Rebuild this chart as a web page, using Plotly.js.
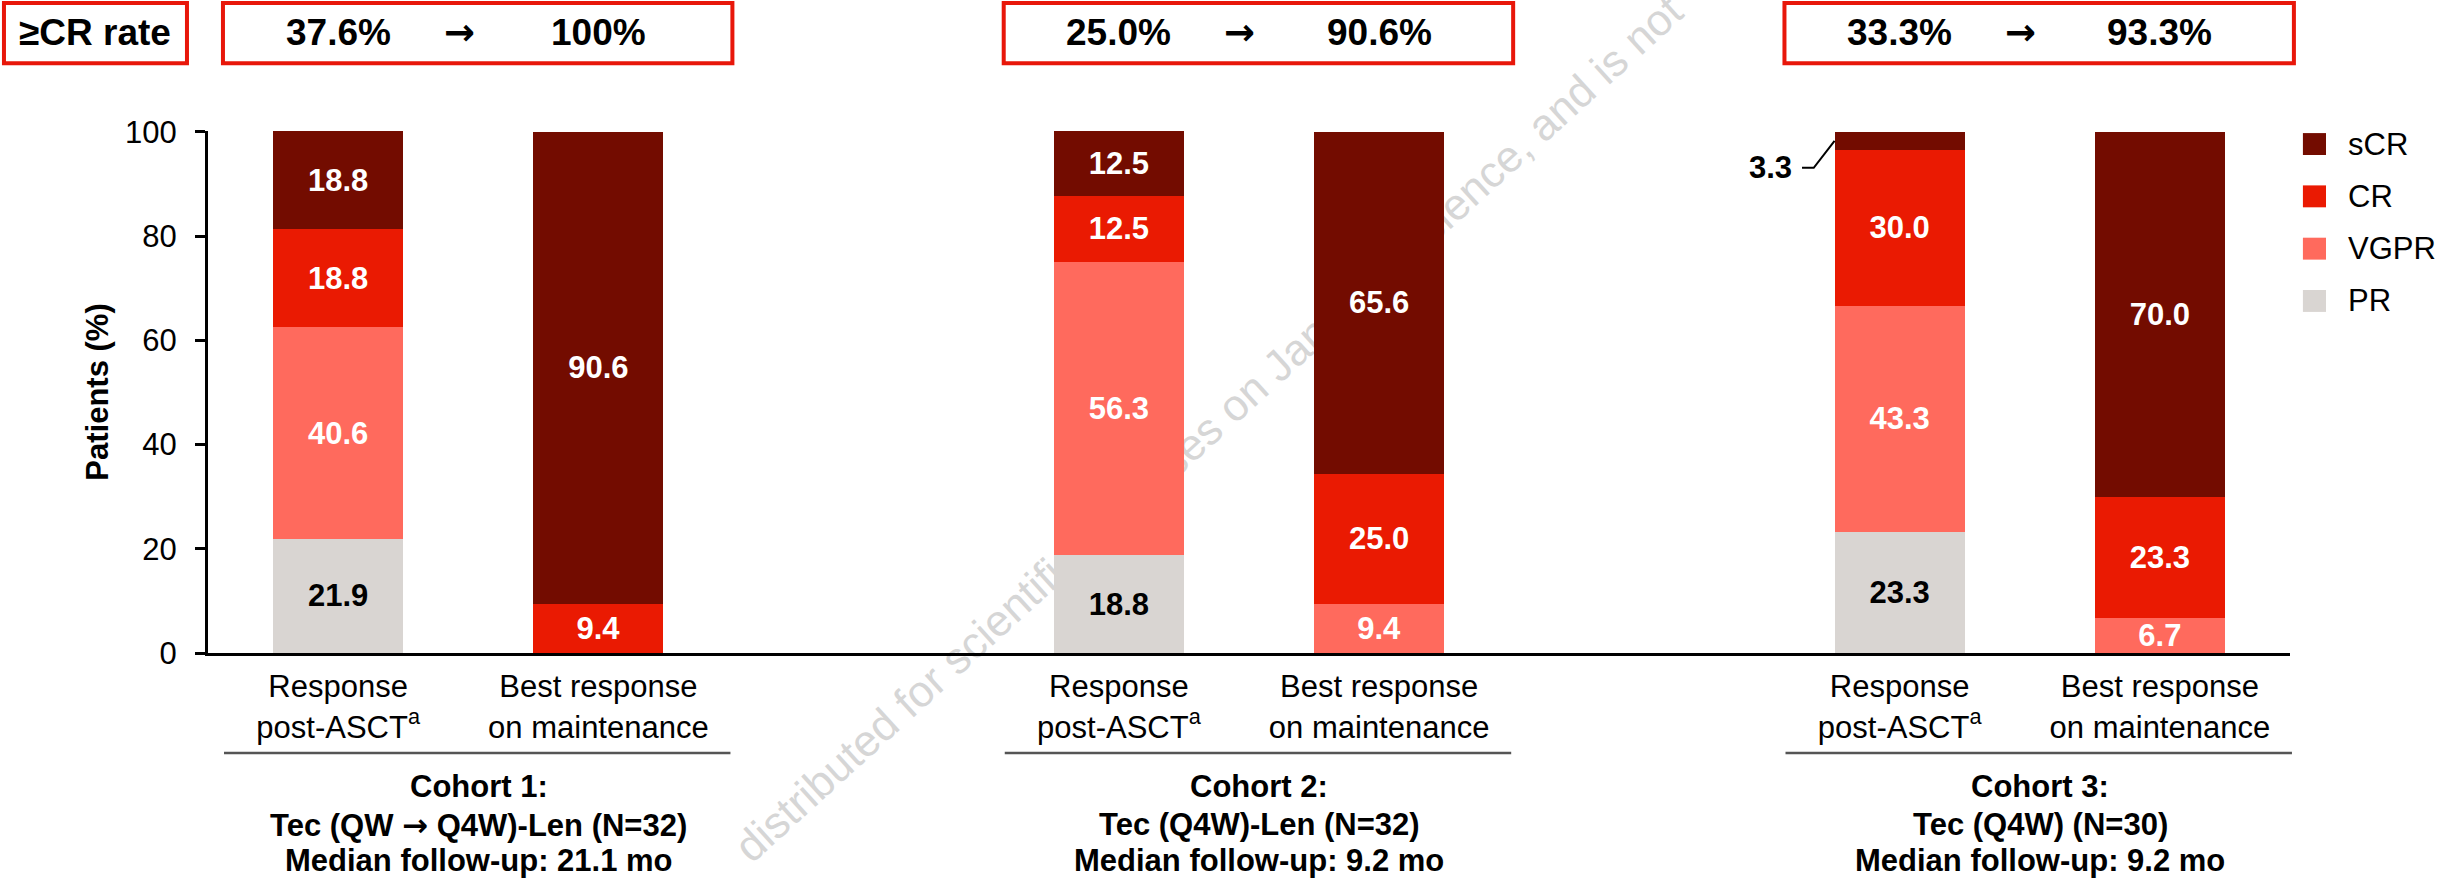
<!DOCTYPE html>
<html><head><meta charset="utf-8">
<script src="https://cdn.plot.ly/plotly-3.0.1.min.js"></script>
<style>html,body{margin:0;padding:0;background:#fff}#chart{width:2453px;height:878px}</style>
</head><body><div id="chart"></div>
<script>
// ---------- data ----------
const cohortLabels = ['Cohort 1:', 'Cohort 2:', 'Cohort 3:'];
const cohortRegimens = ['Tec (QW \u2192 Q4W)-Len (N=32)', 'Tec (Q4W)-Len (N=32)', 'Tec (Q4W) (N=30)'];
const cohortFollowUp = ['Median follow-up: 21.1 mo', 'Median follow-up: 9.2 mo', 'Median follow-up: 9.2 mo'];
const timepoints = ['Response<br>post-ASCT<sup>a</sup>', 'Best response<br>on maintenance'];
const responseNames = ['PR', 'VGPR', 'CR', 'sCR'];
// bars: C1 post-ASCT, C1 maintenance, C2 post-ASCT, C2 maintenance, C3 post-ASCT, C3 maintenance
const PR   = [21.9, 0,    18.8, 0,    23.3, 0];
const VGPR = [40.6, 0,    56.3, 9.4,  43.3, 6.7];
const CR   = [18.8, 9.4,  12.5, 25.0, 30.0, 23.3];
const sCR  = [18.8, 90.6, 12.5, 65.6, 3.3,  70.0];
const yTicks = [0, 20, 40, 60, 80, 100];
const rateLabel = '\u2265CR rate';
const yTitle = 'Patients (%)';
const watermarkText = 'distributed for scientific purposes on Janssen Science, and is not';

// ---------- styles ----------
const FONT = '"Liberation Sans", Arial, Helvetica, sans-serif';
const ARROW_FONT = '"DejaVu Sans", sans-serif';
const FS = 31;
const RED = '#E8170A';
const colors = {PR: '#D9D5D2', VGPR: '#FF6A5D', CR: '#EA1A02', sCR: '#730C00'};
const textColors = {PR: '#000000', VGPR: '#FFFFFF', CR: '#FFFFFF', sCR: '#FFFFFF'};
const series = {PR: PR, VGPR: VGPR, CR: CR, sCR: sCR};
const arrowSpan = t => t.replace('\u2192', '<span style="font-family:DejaVu Sans">\u2192</span>');

const xPos = [], tickText = [];
cohortLabels.forEach((c, ci) => timepoints.forEach((t, ti) => { xPos.push(ci * 6 + ti * 2); tickText.push(t); }));
const XMIN = -1, XMAX = 15;
const px = x => (x - XMIN) / (XMAX - XMIN);

const traces = responseNames.map(name => ({
  type: 'bar', name: name, x: xPos, y: series[name], width: 1,
  marker: {color: colors[name], line: {width: 0}},
  text: series[name].map(v => v >= 5 ? v.toFixed(1) : ''),
  textposition: 'inside', insidetextanchor: 'middle', textangle: 0,
  constraintext: 'none',
  textfont: {family: FONT, size: FS, color: textColors[name], weight: 'bold'},
  hoverinfo: 'skip', showlegend: false, cliponaxis: false
}));

const shapes = [], annotations = [];
const boxY0 = 1.130, boxY1 = 1.245, headY = 1.188;
// ≥CR rate box
shapes.push({type: 'rect', xref: 'paper', yref: 'paper', x0: -0.098, x1: -0.0101, y0: boxY0, y1: boxY1, line: {color: RED, width: 4}});
annotations.push({xref: 'paper', yref: 'paper', x: (-0.098 - 0.0101) / 2, y: headY, text: '<b>' + rateLabel + '</b>',
  showarrow: false, xanchor: 'center', yanchor: 'middle', font: {size: 37, family: FONT, color: '#000'}});
const fmtRate = v => v >= 99.95 ? '100%' : v.toFixed(1) + '%';

cohortLabels.forEach((c, ci) => {
  const cc = ci * 6 + 1;
  shapes.push({type: 'rect', xref: 'paper', yref: 'paper', x0: px(cc - 1.885), x1: px(cc + 2.03), y0: boxY0, y1: boxY1, line: {color: RED, width: 4}});
  const b0 = ci * 2, b1 = ci * 2 + 1;
  const before = CR[b0] + sCR[b0], after = CR[b1] + sCR[b1];
  [[xPos[b0], fmtRate(before), FONT], [cc - 0.07, '\u2192', ARROW_FONT], [xPos[b1], fmtRate(after), FONT]].forEach(([x, t, f]) => {
    annotations.push({xref: 'x', yref: 'paper', x: x, y: headY, text: '<b>' + t + '</b>', showarrow: false,
      xanchor: 'center', yanchor: 'middle', font: {size: 37, family: f, color: '#000'}});
  });
  // separator line
  shapes.push({type: 'line', xref: 'paper', yref: 'paper', x0: px(cc - 1.877), x1: px(cc + 2.015), y0: -0.1916, y1: -0.1916, line: {color: '#555555', width: 2.5}});
  // cohort title lines
  [cohortLabels[ci], cohortRegimens[ci], cohortFollowUp[ci]].forEach((t, li) => {
    annotations.push({xref: 'x', yref: 'paper', x: cc + 0.08, y: [-0.2567, -0.3295, -0.398][li], text: '<b>' + arrowSpan(t) + '</b>',
      showarrow: false, xanchor: 'center', yanchor: 'middle', font: {size: FS, family: FONT, color: '#000'}});
  });
});

// callouts for tiny segments
xPos.forEach((x, bi) => {
  let base = 0;
  responseNames.forEach(name => {
    const v = series[name][bi];
    if (v > 0 && v < 5) {
      const ym = base + v / 2, xl = x - 0.5, yl = ym - 5.15;
      shapes.push({type: 'path', xref: 'x', yref: 'y', path: `M${xl - 0.25},${yl} L${xl - 0.16},${yl} L${xl},${ym}`, line: {color: '#000', width: 2}});
      annotations.push({xref: 'x', yref: 'y', x: xl - 0.31, y: yl, text: '<b>' + v.toFixed(1) + '</b>', showarrow: false,
        xanchor: 'right', yanchor: 'middle', font: {size: FS, family: FONT, color: '#000'}});
    }
    base += v;
  });
});

// legend (manual, larger squares)
responseNames.slice().reverse().forEach((name, i) => {
  const yc = 0.975 - i * 0.1002;
  shapes.push({type: 'rect', xref: 'paper', yref: 'paper', x0: 1.0062, x1: 1.0173, y0: yc - 0.021, y1: yc + 0.021, fillcolor: colors[name], line: {width: 0}});
  annotations.push({xref: 'paper', yref: 'paper', x: 1.0269, y: yc, text: name, showarrow: false, xanchor: 'left', yanchor: 'middle',
    font: {size: FS, family: FONT, color: '#000'}});
});

// watermark (below bars)
shapes.push({type: 'line', xref: 'paper', yref: 'paper', layer: 'below', x0: 0.2392, y0: -0.5057, x1: 0.7368, y1: 1.2989,
  line: {color: 'rgba(0,0,0,0)', width: 1},
  label: {text: watermarkText, textposition: 'middle', font: {size: 44, color: '#D6D6D6', family: FONT}}});

const layout = {
  width: 2453, height: 878,
  margin: {l: 208, r: 163, t: 131, b: 225, pad: 0},
  paper_bgcolor: '#FFFFFF', plot_bgcolor: 'rgba(0,0,0,0)',
  font: {family: FONT, size: FS, color: '#000'},
  barmode: 'stack', bargap: 0, showlegend: false,
  xaxis: {range: [XMIN, XMAX], tickvals: xPos, ticktext: tickText, showline: true, linecolor: '#000', linewidth: 3,
    ticks: '', showgrid: false, zeroline: false, tickfont: {size: FS, family: FONT, color: '#000'}, ticklabelstandoff: 4,
    automargin: false, fixedrange: true},
  yaxis: {range: [0, 100.15], tickvals: yTicks, ticks: 'outside', ticklen: 10, tickwidth: 3, tickcolor: '#000',
    showline: true, linecolor: '#000', linewidth: 3, showgrid: false, zeroline: false,
    tickfont: {size: FS, family: FONT, color: '#000'}, ticklabelstandoff: 12, automargin: false, fixedrange: true,
    title: {text: '<b>' + yTitle + '</b>', font: {size: FS, family: FONT, color: '#000'}, standoff: 8}},
  shapes: shapes, annotations: annotations
};
Plotly.newPlot('chart', traces, layout, {staticPlot: true, displayModeBar: false});
</script>
</body></html>
